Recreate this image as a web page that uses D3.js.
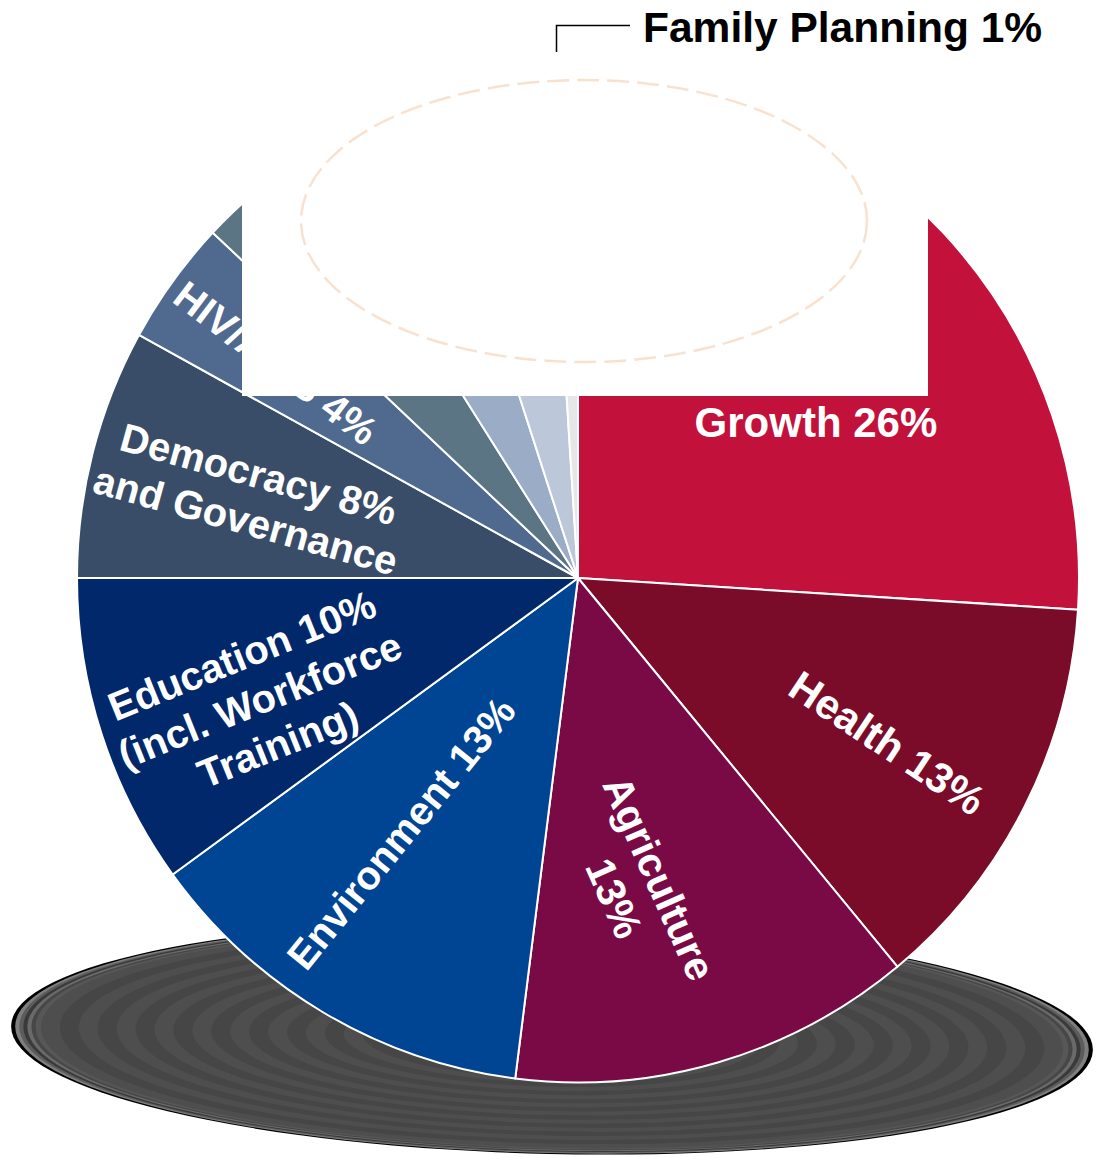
<!DOCTYPE html>
<html>
<head>
<meta charset="utf-8">
<script src="https://cdn.jsdelivr.net/npm/d3@7"></script>
<style>
  html, body { margin: 0; padding: 0; background: #ffffff; }
  svg { display: block; }
</style>
</head>
<body>
<div id="chart"></div>
<script>
// budget shares by sector (percent), clockwise from 12 o'clock
const categories = ["Economic Growth", "Health", "Agriculture", "Environment", "Education",
  "Democracy and Governance", "HIV/AIDS", "Unlabeled A", "Unlabeled B", "Unlabeled C", "Family Planning"];
const shares = [26, 13, 13, 13, 10, 8, 4, 4, 4, 4, 1];
const sliceColors = ["#c2123b", "#7a0b29", "#7a0a45", "#004494", "#00286a",
  "#3a4d68", "#506a8f", "#5b7585", "#9aacc6", "#bcc8d9", "#e6e6e6"];
const labelLines = [
  ["Economic", "Growth 26%"],
  ["Health 13%"],
  ["Agriculture", "13%"],
  ["Environment 13%"],
  ["Education 10%", "(incl. Workforce", "Training)"],
  ["Democracy 8%", "and Governance"],
  ["HIV/AIDS 4%"],
  [], [], [], []
];
const calloutText = "Family Planning 1%";

// label placement: radius fraction, angle nudge (deg), text rotation (deg), font size
const labelLayout = [
  { rf: 0.597, da: 5.9, rot: 0, fs: 42 },
  { rf: 0.70, da: 1.0, rot: 33.5, fs: 42 },
  { rf: 0.63, da: 5.4, rot: 66, fs: 41 },
  { rf: 0.62, da: 4.2, rot: -51, fs: 40 },
  { rf: 0.68, da: -2.9, rot: -22, fs: 40 },
  { rf: 0.67, da: -0.4, rot: 15.5, fs: 40 },
  { rf: 0.74, da: -0.5, rot: 37, fs: 40 },
  null, null, null, null
];

const width = 1097, height = 1157;
const cx = 578, cy = 578, radius = 501;

const svg = d3.select("#chart").append("svg")
  .attr("width", width)
  .attr("height", height);

// shadow disc under the pie
const shadow = svg.append("g")
  .attr("transform", "translate(552,1038) rotate(1.3)");
const rx0 = 541, ry0 = 116;
const outerRings = ["#000000", "#7e7e7e", "#5c5c5c", "#3a3a3a", "#6a6a6a", "#474747", "#575757"];
const ringSteps = [];
outerRings.forEach((c, i) => ringSteps.push({ k: 1 - i * 0.0075, c: c }));
for (let i = 0; i < 26; i++) {
  ringSteps.push({ k: 0.945 - i * 0.035, c: i % 2 === 0 ? "#4e4e4e" : "#464646" });
}
shadow.selectAll("ellipse")
  .data(ringSteps.filter(d => d.k > 0))
  .enter()
  .append("ellipse")
  .attr("rx", d => rx0 * d.k)
  .attr("ry", d => ry0 * d.k)
  .attr("fill", d => d.c);

// pie
const pie = d3.pie().sort(null).value(d => d)
  .startAngle(0).endAngle(2 * Math.PI);
const arcs = pie(shares);
const arc = d3.arc().innerRadius(0).outerRadius(radius);

const g = svg.append("g").attr("transform", `translate(${cx},${cy})`);
g.append("g")
  .attr("transform", "scale(1,1.007)")
  .selectAll("path.slice")
  .data(arcs)
  .enter()
  .append("path")
  .attr("class", "slice")
  .attr("d", arc)
  .attr("fill", (d, i) => sliceColors[i])
  .attr("stroke", "#ffffff")
  .attr("stroke-width", 2)
  .attr("stroke-linejoin", "round");

// slice labels
const labels = g.selectAll("g.label")
  .data(arcs.filter((d, i) => labelLayout[i] && labelLines[i].length))
  .enter()
  .append("g")
  .attr("class", "label")
  .attr("transform", d => {
    const L = labelLayout[d.index];
    const a = (d.startAngle + d.endAngle) / 2 + L.da * Math.PI / 180;
    const r = radius * L.rf;
    return `translate(${r * Math.sin(a)},${-r * Math.cos(a)}) rotate(${L.rot})`;
  });

labels.each(function (d) {
  const lines = labelLines[d.index];
  const fs = labelLayout[d.index].fs;
  const lh = fs * 1.2;
  const t = d3.select(this).append("text")
    .attr("text-anchor", "middle")
    .attr("fill", "#ffffff")
    .attr("font-family", "'Liberation Sans', Arial, sans-serif")
    .attr("font-weight", "bold")
    .attr("font-size", fs);
  lines.forEach((s, i) => {
    t.append("tspan")
      .attr("x", 0)
      .attr("y", (i - (lines.length - 1) / 2) * lh)
      .attr("dy", "0.36em")
      .text(s);
  });
});

// white block over the top of the pie
svg.append("rect")
  .attr("x", 242)
  .attr("y", 55)
  .attr("width", 928 - 242)
  .attr("height", 396 - 55)
  .attr("fill", "#ffffff");

// faint dashed ellipse
svg.append("ellipse")
  .attr("cx", 584)
  .attr("cy", 221)
  .attr("rx", 283)
  .attr("ry", 141)
  .attr("fill", "none")
  .attr("stroke", "#f8e2cf")
  .attr("stroke-width", 2.5)
  .attr("stroke-dasharray", "22,8");

// Family Planning callout
svg.append("path")
  .attr("d", "M556.5,52 V25.5 H630")
  .attr("fill", "none")
  .attr("stroke", "#000000")
  .attr("stroke-width", 1.5);

svg.append("text")
  .attr("x", 643)
  .attr("y", 42)
  .attr("font-family", "'Liberation Sans', Arial, sans-serif")
  .attr("font-weight", "bold")
  .attr("font-size", 42.5)
  .attr("fill", "#000000")
  .text(calloutText);
</script>
</body>
</html>
